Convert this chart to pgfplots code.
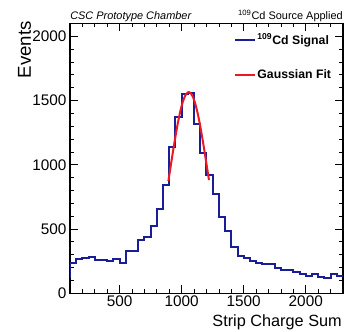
\documentclass[border=0pt]{standalone}
\usepackage{fontspec}
\setmainfont{Liberation Sans}
\usepackage{pgfplots}
\pgfplotsset{compat=1.18}
\definecolor{histblue}{RGB}{25,30,150}
\definecolor{fitred}{RGB}{235,25,35}
\begin{document}
\begin{tikzpicture}
\begin{axis}[
  scale only axis, width=204.75pt, height=202.5pt,
  xmin=100, xmax=2300, ymin=0, ymax=2100,
  xtick={0,500,...,2500}, ytick={0,500,...,2500},
  minor tick num=4,
  tick align=inside,
  major tick length=6pt, minor tick length=3pt,
  axis line style={line width=0.8pt},
  every tick/.append style={black, line width=0.6pt},
  /pgf/number format/.cd, 1000 sep={}, assume math mode=true, /pgfplots/.cd,
  tick label style={font=\fontsize{11.5}{13}\selectfont},
  xticklabel style={anchor=base, inner sep=0pt, yshift=-10pt},
  yticklabel style={anchor=east, inner sep=0pt, xshift=-2.5pt},
  legend style={draw=none, fill=none, at={(rel axis cs:0.6,0.968)}, anchor=north west,
    inner sep=0pt, row sep=15.5pt, font=\bfseries\fontsize{9.2}{10}\selectfont,
    nodes={inner sep=1pt}},
  legend cell align=left,
  legend image code/.code={\draw[#1] (0pt,0pt) -- (15pt,0pt);},
]
\addplot[const plot, histblue, line width=1.5pt] coordinates {
(50,129) (100,237) (150,264) (200,274) (250,284) (300,256) (350,256) (400,252)
(450,270) (500,239) (550,333) (600,330) (650,412) (700,436) (750,527) (800,656)
(850,845) (900,1137) (950,1369) (1000,1548) (1050,1562) (1100,1318) (1150,1090)
(1200,922) (1250,775) (1300,596) (1350,485) (1400,362) (1450,288) (1500,278)
(1550,250) (1600,233) (1650,231) (1700,228) (1750,194) (1800,183) (1850,180)
(1900,167) (1950,150) (2000,134) (2050,154) (2100,129) (2150,116) (2200,150)
(2250,134) (2300,134)
};
\addlegendentry{\textsuperscript{109}Cd Signal}
\addplot[fitred, line width=1.5pt, smooth] coordinates {
(893,874) (910,980) (930,1104) (950,1221) (970,1329) (990,1420) (1010,1492)
(1030,1540) (1050,1563) (1057,1565) (1070,1559) (1090,1529) (1110,1473)
(1130,1395) (1150,1298) (1170,1187) (1190,1067) (1210,943) (1220,881)
};
\addlegendentry{Gaussian Fit}
\end{axis}
\node[anchor=base west, inner sep=0pt, font=\itshape\fontsize{8.2}{10}\selectfont] at (0pt,205.7pt) {CSC Prototype Chamber};
\node[anchor=base east, inner sep=0pt, font=\fontsize{8.2}{10}\selectfont] at (204.75pt,205.7pt) {\textsuperscript{109}Cd Source Applied};
\node[anchor=base east, inner sep=0pt, rotate=90, font=\fontsize{14}{16}\selectfont] at (-29.25pt,204.2pt) {Events};
\node[anchor=base east, inner sep=0pt, font=\fontsize{12.2}{14}\selectfont] at (204pt,-24.9pt) {Strip Charge Sum};
\pgfresetboundingbox
\path (-52.5pt,-28.3pt) rectangle (205.5pt,220pt);
\end{tikzpicture}
\end{document}
